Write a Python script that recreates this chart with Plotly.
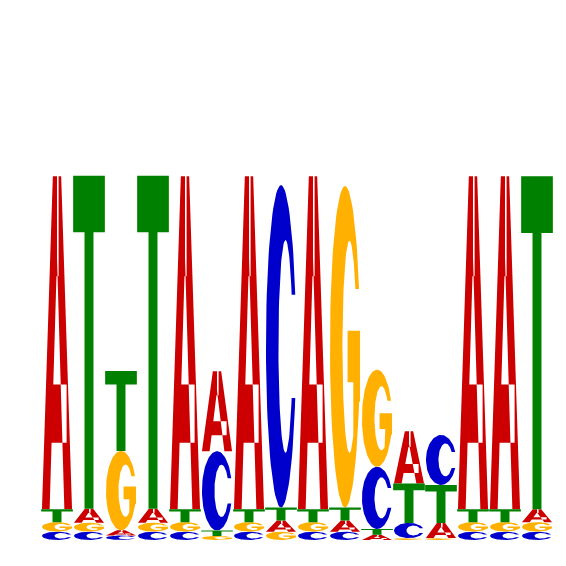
import numpy as np
import plotly.graph_objects as go

# sequence logo, heights in bits
positions = list(range(1, 17))
a_bits = [1.233, 0.052, 0.019, 0.052, 1.233, 0.296, 1.233, 0.041,
          1.233, 0.041, 0.019, 0.194, 0.056, 1.233, 1.233, 0.048]
c_bits = [0.031, 0.031, 0.017, 0.031, 0.031, 0.294, 0.031, 1.194,
          0.031, 0.031, 0.230, 0.056, 0.185, 0.031, 0.031, 0.031]
g_bits = [0.035, 0.033, 0.294, 0.033, 0.035, 0.015, 0.035, 0.031,
          0.035, 1.191, 0.360, 0.007, 0.007, 0.035, 0.035, 0.035]
t_bits = [0.048, 1.233, 0.296, 1.233, 0.048, 0.020, 0.048, 0.048,
          0.048, 0.048, 0.022, 0.146, 0.141, 0.048, 0.048, 1.233]

colors = {'A': '#cc0000', 'C': '#0000cc', 'G': '#ffb000', 'T': '#008000'}


# glyph outlines in a unit box, each a list of polygons
def glyph_A():
    left = [(0.03, 0), (0.27, 0), (0.5, 0.755), (0.5, 1), (0.37, 1)]
    right = [(0.97, 0), (0.73, 0), (0.5, 0.755), (0.5, 1), (0.63, 1)]
    cap = [(0.45, 0.7), (0.55, 0.7), (0.55, 1), (0.45, 1)]
    bar = [(0.2, 0.2), (0.8, 0.2), (0.8, 0.375), (0.2, 0.375)]
    return [left, right, cap, bar]


def glyph_C():
    t0 = np.arcsin(0.16 / 0.5)
    p0 = np.arcsin(0.16 / 0.33)
    th = np.linspace(t0, 2 * np.pi - t0, 80)
    ph = np.linspace(2 * np.pi - p0, p0, 80)
    outer = list(zip(0.5 + 0.47 * np.cos(th), 0.5 + 0.5 * np.sin(th)))
    inner = list(zip(0.64 + 0.22 * np.cos(ph), 0.5 + 0.33 * np.sin(ph)))
    return [outer + inner]


def glyph_G():
    t0 = np.arcsin(0.36)
    t1 = 2 * np.pi - np.radians(20)
    p0 = np.arcsin(0.18 / 0.33)
    p1 = 2 * np.pi - np.arccos(0.12 / 0.22)
    th = np.linspace(t0, t1, 80)
    ph = np.linspace(p1, p0, 80)
    outer = list(zip(0.5 + 0.47 * np.cos(th), 0.5 + 0.5 * np.sin(th)))
    spur = [(0.97, 0.33), (0.97, 0.55), (0.58, 0.55), (0.58, 0.39), (0.76, 0.39)]
    inner = list(zip(0.64 + 0.22 * np.cos(ph), 0.5 + 0.33 * np.sin(ph)))
    return [outer + spur + inner]


def glyph_T():
    return [[(0.36, 0), (0.64, 0), (0.64, 0.83), (0.995, 0.83), (0.995, 1),
             (0.005, 1), (0.005, 0.83), (0.36, 0.83)]]


glyphs = {'A': glyph_A(), 'C': glyph_C(), 'G': glyph_G(), 'T': glyph_T()}
bits = {'A': a_bits, 'C': c_bits, 'G': g_bits, 'T': t_bits}

xs = {k: [] for k in glyphs}
ys = {k: [] for k in glyphs}
for i, pos in enumerate(positions):
    # smallest letter at the bottom of the stack
    order = sorted(bits, key=lambda k: bits[k][i])
    base = 0.0
    for k in order:
        h = bits[k][i]
        for poly in glyphs[k]:
            for gx, gy in poly:
                xs[k].append(pos - 0.5 + gx)
                ys[k].append(base + gy * h)
            xs[k].append(None)
            ys[k].append(None)
        base += h

traces = []
for k in ['A', 'C', 'G', 'T']:
    traces.append(go.Scatter(
        x=xs[k], y=ys[k], mode='lines', fill='toself',
        fillcolor=colors[k], line=dict(width=0, color=colors[k]),
        hoverinfo='skip', name=k
    ))

# page body adds 8px, so plot area is placed 8px up/left of target
fig = go.Figure(traces)
fig.update_layout(
    width=566, height=566,
    margin=dict(l=0, r=0, t=0, b=34),
    plot_bgcolor='white', paper_bgcolor='white',
    showlegend=False,
    xaxis=dict(range=[0.5 - 33 / 32, 0.5 + 533 / 32], visible=False),
    yaxis=dict(range=[0, 532 / 270], visible=False),
)
fig.write_html("out.html")
